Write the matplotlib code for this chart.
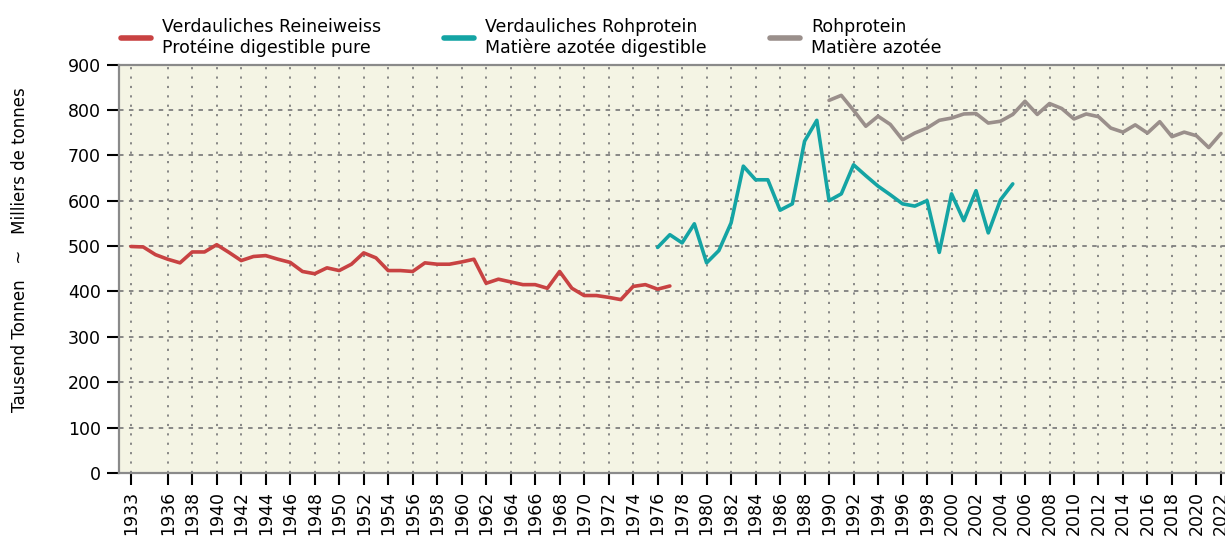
import numpy as np
import matplotlib
matplotlib.use("Agg")
import matplotlib.pyplot as plt

plt.rcParams['font.family'] = ['DejaVu Sans']

# Verdauliches Reineiweiss / Protéine digestible pure
years_rein = list(range(1933, 1978))
rein = [499, 498, 481, 471, 463, 487, 487, 503, 486, 468,
        477, 479, 471, 464, 444, 439, 452, 446, 460, 485,
        474, 446, 446, 444, 463, 460, 460, 465, 471, 418,
        427, 421, 415, 415, 407, 444, 407, 391, 391, 387,
        382, 411, 415, 405, 412]

# Verdauliches Rohprotein / Matière azotée digestible
years_roh_v = list(range(1976, 2006))
roh_v = [497, 525, 507, 549, 463, 490, 551, 676, 646, 646,
         579, 593, 731, 777, 600, 615, 679, 655, 632, 613,
         593, 588, 600, 486, 615, 556, 622, 529, 602, 637]

# Rohprotein / Matière azotée
years_roh = list(range(1990, 2023))
roh = [821, 832, 799, 764, 786, 768, 734, 749, 760, 777,
       782, 791, 792, 771, 775, 790, 819, 790, 814, 803,
       780, 791, 785, 760, 751, 767, 749, 774, 741, 751,
       743, 717, 748]

xticks = [1933] + list(range(1936, 2023, 2))
yticks = list(range(0, 901, 100))

labels = ["Verdauliches Reineiweiss\nProtéine digestible pure",
          "Verdauliches Rohprotein\nMatière azotée digestible",
          "Rohprotein\nMatière azotée"]
colors = ["#C84242", "#14A4A4", "#9A8F8B"]

fig = plt.figure(figsize=(12.25, 5.37), dpi=100)
ax = fig.add_axes([119 / 1225, 1 - 473 / 537, 1 - 119 / 1225, (473 - 64.5) / 537])
ax.set_facecolor("#F4F4E4")

for x, y, c, lab in zip([years_rein, years_roh_v, years_roh], [rein, roh_v, roh], colors, labels):
    ax.plot(x, y, color=c, lw=2.6, label=lab, solid_capstyle='round', solid_joinstyle='round', zorder=3)

ax.set_xlim(1932.02, 2022.33)
ax.set_ylim(0, 900)
ax.set_xticks(xticks)
ax.set_xticklabels([str(t) for t in xticks], rotation=90)
ax.set_yticks(yticks)

# grid
for t in xticks:
    ax.axvline(t, color="#7f7f7f", lw=1.3, ls=(0, (1.2, 4)), zorder=1)
for t in yticks[1:-1]:
    ax.axhline(t, color="#7f7f7f", lw=1.3, ls=(0, (2.5, 3)), zorder=1)

for s in ax.spines.values():
    s.set_color("#8a8a8a")
    s.set_linewidth(1.6)
ax.spines['right'].set_visible(False)

ax.tick_params(axis='both', which='major', length=8.5, width=1.5, color='black',
               labelsize=12.5, pad=4.5)

fig.text(20 / 1225, 1 - 250 / 537, "Tausend Tonnen   ~   Milliers de tonnes",
         rotation=90, ha='center', va='center', fontsize=12)

leg = ax.legend(loc='lower left', bbox_to_anchor=(121 / 1225, 1 - 57 / 537),
                bbox_transform=fig.transFigure, ncol=3, frameon=False,
                fontsize=12.5, handlelength=1.7, handletextpad=0.65,
                columnspacing=3.65, borderpad=0, borderaxespad=0,
                labelspacing=0.3)
for h in leg.get_lines():
    h.set_linewidth(4)

fig.savefig("out.png", dpi=100)
